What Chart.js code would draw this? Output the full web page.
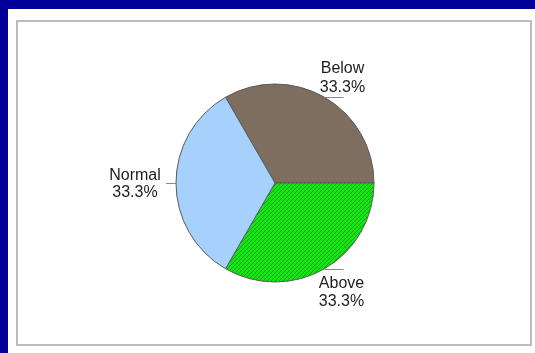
<!DOCTYPE html>
<html>
<head>
<meta charset="utf-8">
<script src="https://cdn.jsdelivr.net/npm/chart.js@4"></script>
<style>
  html, body { margin: 0; padding: 0; background: #fff; }
  #page { position: relative; width: 535px; height: 353px; overflow: hidden; background: #fff; }
  #topBand { position: absolute; left: 0; top: 0; width: 535px; height: 9px; background: #000099; }
  #leftBand { position: absolute; left: 0; top: 0; width: 8px; height: 353px; background: #000099; }
  #panel { position: absolute; left: 16px; top: 20px; width: 512px; height: 322px; border: 2px solid #bcbcbc; background: #fff; }
  #pie { position: absolute; left: 0; top: 0; }
</style>
</head>
<body>
<div id="page">
  <div id="topBand"></div>
  <div id="leftBand"></div>
  <div id="panel"></div>
  <canvas id="pie" width="535" height="353"></canvas>
</div>
<script>
const categories = ['Below', 'Above', 'Normal'];
const counts = [1, 1, 1];

// diagonal hatch for the "Above" slice
function hatch() {
  const c = document.createElement('canvas');
  c.width = 4; c.height = 4;
  const g = c.getContext('2d');
  g.fillStyle = '#14e614';
  g.fillRect(0, 0, 4, 4);
  g.strokeStyle = '#0f920f';
  g.lineWidth = 0.8;
  g.beginPath();
  g.moveTo(0, 4); g.lineTo(4, 0);
  g.moveTo(-1, 1); g.lineTo(1, -1);
  g.moveTo(3, 5); g.lineTo(5, 3);
  g.stroke();
  return g.createPattern(c, 'repeat');
}

const ctx = document.getElementById('pie').getContext('2d');

const sliceLabels = {
  id: 'sliceLabels',
  afterDatasetsDraw(chart) {
    const c = chart.ctx;
    const meta = chart.getDatasetMeta(0);
    const data = chart.data.datasets[0].data;
    const total = data.reduce((a, b) => a + b, 0);
    c.save();
    c.font = '16px "Liberation Sans", Arial, sans-serif';
    c.fillStyle = '#1c1c1c';
    c.strokeStyle = '#8a8a8a';
    c.lineWidth = 1;
    meta.data.forEach((arc, i) => {
      const p = arc.getProps(['x', 'y', 'startAngle', 'endAngle', 'outerRadius'], true);
      const mid = (p.startAngle + p.endAngle) / 2;
      const ex = p.x + Math.cos(mid) * p.outerRadius;
      const ey = Math.round(p.y + Math.sin(mid) * p.outerRadius) + 0.5;
      const pct = (data[i] / total * 100).toFixed(1) + '%';
      const name = chart.data.labels[i];
      if (Math.cos(mid) > 0.2) {
        const lx = ex + 19;
        c.beginPath(); c.moveTo(ex, ey); c.lineTo(lx, ey); c.stroke();
        c.textAlign = 'center';
        if (Math.sin(mid) < 0) {
          c.fillText(name, lx - 1, ey - 24.5);
          c.fillText(pct, lx - 1, ey - 5.5);
        } else {
          c.fillText(name, lx - 2, ey + 18);
          c.fillText(pct, lx - 2, ey + 36);
        }
      } else {
        const lx = ex - 10;
        c.beginPath(); c.moveTo(ex, ey); c.lineTo(lx, ey); c.stroke();
        c.textAlign = 'center';
        c.fillText(name, lx - 31, ey - 3.5);
        c.fillText(pct, lx - 31, ey + 13.5);
      }
    });
    c.restore();
  }
};

new Chart(ctx, {
  type: 'pie',
  data: {
    labels: categories,
    datasets: [{
      data: counts,
      backgroundColor: ['#7d6e60', hatch(), '#a6d1fd'],
      borderColor: '#5a5a5a',
      borderWidth: 1
    }]
  },
  options: {
    responsive: false,
    animation: false,
    rotation: -30,
    radius: 99,
    layout: { padding: { left: 176, right: 161, top: 84, bottom: 71 } },
    plugins: {
      legend: { display: false },
      tooltip: { enabled: false }
    }
  },
  plugins: [sliceLabels]
});
</script>
</body>
</html>
